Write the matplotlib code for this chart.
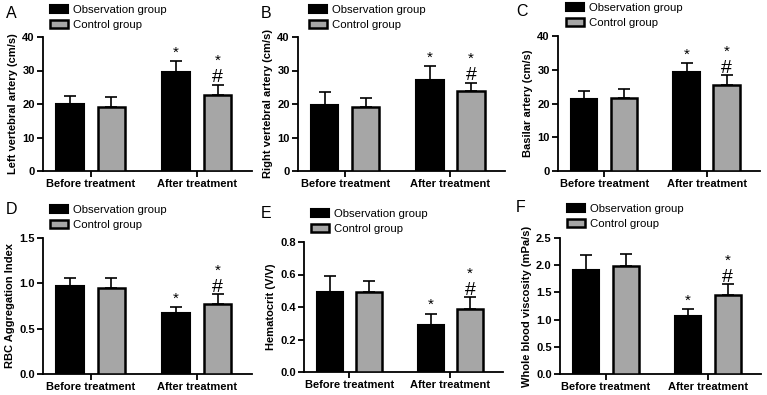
import matplotlib
matplotlib.use("Agg")
import matplotlib.pyplot as plt
import numpy as np

plt.rcParams['font.family'] = ['Liberation Sans', 'DejaVu Sans']

groups = ['Before treatment', 'After treatment']
series = ['Observation group', 'Control group']

# panel data: means and upper error (SD) for observation / control
panels = ['A', 'B', 'C', 'D', 'E', 'F']
ylabels = ['Left vertebral artery (cm/s)', 'Right vertebral artery (cm/s)',
           'Basilar artery (cm/s)', 'RBC Aggregation Index',
           'Hematocrit (V/V)', 'Whole blood viscosity (mPa/s)']
obs_mean = [[20.0, 29.5], [19.8, 27.3], [21.2, 29.3],
            [0.97, 0.67], [0.49, 0.29], [1.91, 1.06]]
obs_err = [[2.4, 3.4], [3.7, 3.9], [2.6, 2.6],
           [0.09, 0.07], [0.10, 0.07], [0.28, 0.13]]
ctl_mean = [[19.2, 22.8], [19.0, 23.8], [21.5, 25.5],
            [0.95, 0.77], [0.49, 0.39], [1.98, 1.46]]
ctl_err = [[3.0, 3.0], [2.7, 2.6], [2.9, 2.8],
           [0.11, 0.11], [0.07, 0.07], [0.23, 0.19]]
ylims = [40, 40, 40, 1.5, 0.8, 2.5]
yticks = [[0, 10, 20, 30, 40], [0, 10, 20, 30, 40], [0, 10, 20, 30, 40],
          [0.0, 0.5, 1.0, 1.5], [0.0, 0.2, 0.4, 0.6, 0.8],
          [0.0, 0.5, 1.0, 1.5, 2.0, 2.5]]
ytick_fmt = ['{:.0f}', '{:.0f}', '{:.0f}', '{:.1f}', '{:.1f}', '{:.1f}']

W, H = 767, 395
# axes rectangles in pixels: left, top, right, bottom
rects = [(43, 37, 252, 171), (298, 37, 505, 171), (558, 36, 760, 171),
         (43, 238, 252, 374), (304, 242, 503, 372), (560, 238, 761, 374)]
legend_pos = [(50, 5), (309, 5), (566, 3), (50, 205), (311, 209), (567, 204)]
letter_pos = [(6, 13), (261, 13), (516, 11), (6, 209), (261, 213), (516, 208)]

gray = '#a6a6a6'
fig = plt.figure(figsize=(W / 100, H / 100), dpi=100)

x = np.arange(len(groups))
bw = 0.26
off = 0.195

for i in range(6):
    l, t, r, b = rects[i]
    ax = fig.add_axes([l / W, 1 - b / H, (r - l) / W, (b - t) / H])
    o = ax.bar(x - off, obs_mean[i], bw, color='black', edgecolor='black',
               linewidth=1.5, zorder=3, label=series[0])
    c = ax.bar(x + off, ctl_mean[i], bw, color=gray, edgecolor='black',
               linewidth=1.8, zorder=3, label=series[1])
    z = np.zeros(2)
    ax.errorbar(x - off, obs_mean[i], yerr=[z, obs_err[i]], fmt='none',
                ecolor='black', elinewidth=1.2, capsize=4.3, capthick=1.2, zorder=2)
    ax.errorbar(x + off, ctl_mean[i], yerr=[z, ctl_err[i]], fmt='none',
                ecolor='black', elinewidth=1.2, capsize=4.3, capthick=1.2, zorder=2)

    # significance marks after treatment
    top_o = obs_mean[i][1] + obs_err[i][1]
    top_c = ctl_mean[i][1] + ctl_err[i][1]
    ax.annotate('*', (x[1] - off, top_o), xytext=(0, 1), textcoords='offset points',
                ha='center', va='bottom', fontsize=11)
    ax.annotate('#', (x[1] + off, top_c), xytext=(0, -1), textcoords='offset points',
                ha='center', va='bottom', fontsize=14)
    ax.annotate('*', (x[1] + off, top_c), xytext=(0, 12), textcoords='offset points',
                ha='center', va='bottom', fontsize=11)

    ax.set_xlim(-0.45, 1.52)
    ax.set_ylim(0, ylims[i])
    ax.set_yticks(yticks[i])
    ax.set_yticklabels([ytick_fmt[i].format(v) for v in yticks[i]],
                       fontweight='bold', fontsize=8)
    ax.set_xticks(x)
    ax.set_xticklabels(groups, fontweight='bold', fontsize=8)
    ax.set_ylabel(ylabels[i], fontweight='bold', fontsize=8, labelpad=3)
    for s in ['top', 'right']:
        ax.spines[s].set_visible(False)
    for s in ['left', 'bottom']:
        ax.spines[s].set_linewidth(1.3)
    ax.tick_params(axis='both', width=1.3, length=4, pad=2)

    lx, ly = legend_pos[i]
    ax.legend(handles=[o, c], loc='upper left',
              bbox_to_anchor=(lx / W, 1 - ly / H), bbox_transform=fig.transFigure,
              frameon=False, fontsize=8.2, handlelength=1.55, handleheight=0.65,
              handletextpad=0.5, labelspacing=0.45, borderpad=0, borderaxespad=0)

    px, py = letter_pos[i]
    fig.text(px / W, 1 - py / H, panels[i], fontsize=11.5, ha='left', va='center')

fig.savefig('out.png', dpi=100)
